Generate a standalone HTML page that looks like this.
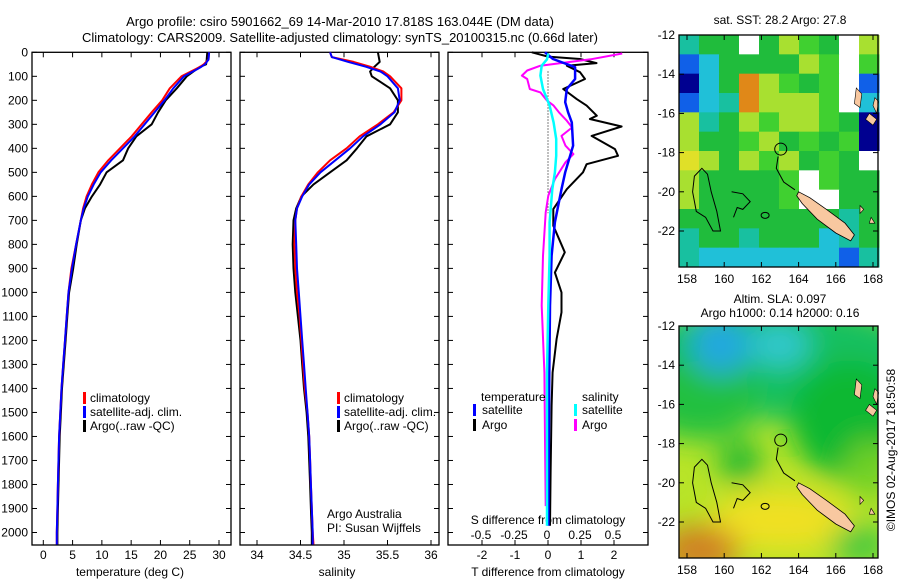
<!DOCTYPE html>
<html><head><meta charset="utf-8"><style>
body{margin:0;background:#fff;}
svg{display:block;font-family:"Liberation Sans",sans-serif;}
</style></head><body>
<svg id="c" width="900" height="580" viewBox="0 0 900 580" xmlns="http://www.w3.org/2000/svg">
<text x="340" y="26" font-size="13" text-anchor="middle">Argo profile: csiro 5901662_69 14-Mar-2010 17.818S 163.044E (DM data)</text>
<text x="340" y="42" font-size="13" text-anchor="middle">Climatology: CARS2009. Satellite-adjusted climatology: synTS_20100315.nc (0.66d later)</text>
<text x="780" y="24" font-size="12" text-anchor="middle">sat. SST: 28.2 Argo: 27.8</text>
<text x="780" y="303" font-size="12" text-anchor="middle">Altim. SLA: 0.097</text>
<text x="780" y="317" font-size="12" text-anchor="middle">Argo h1000: 0.14 h2000: 0.16</text>
<text transform="translate(895,450) rotate(-90)" font-size="12" text-anchor="middle">©IMOS 02-Aug-2017 18:50:58</text>
<g id="maps"></g>
<g id="plots"></g>
</svg>
<script>
// ---- data ----
const tDepth  = [0,30,50,60,70,100,150,200,250,300,350,400,450,500,550,600,650,700,800,900,1000,1100,1200,1300,1400,1500,1600,1700,1800,1900,2000,2050];
const tClim   = [28.3,28.2,27.4,26.8,26.0,23.6,21.6,20.3,18.5,16.8,15.1,13.1,11.1,9.4,8.3,7.4,6.8,6.4,5.6,4.8,4.3,4.0,3.7,3.4,3.1,2.9,2.7,2.6,2.5,2.4,2.3,2.3];
const tSat    = [28.3,28.2,27.6,27.0,26.3,24.0,22.2,20.7,19.0,17.3,15.6,13.6,11.6,9.8,8.6,7.6,6.9,6.4,5.6,4.9,4.3,4.0,3.7,3.4,3.1,2.9,2.7,2.6,2.5,2.4,2.3,2.3];
const tArgo   = [28.0,27.9,27.8,26.8,26.2,24.5,22.8,20.9,19.6,18.5,15.9,14.5,13.6,10.8,9.7,8.3,7.1,6.4,5.7,5.1,4.4,4.1,3.8,3.5,3.2,3.0,2.8,2.7,2.6,2.5,2.4,2.4];
const sDepth  = [0,20,40,60,80,100,150,200,250,300,350,400,450,500,550,600,650,700,800,900,1000,1100,1200,1300,1400,1500,1600,1700,1800,1900,2000,2050];
const sClim   = [34.84,34.86,35.11,35.30,35.45,35.53,35.66,35.66,35.57,35.39,35.18,35.03,34.84,34.70,34.59,34.51,34.46,34.44,34.43,34.44,34.46,34.49,34.51,34.53,34.55,34.58,34.60,34.61,34.62,34.63,34.64,34.65];
const sSat    = [34.84,34.86,35.05,35.25,35.42,35.50,35.62,35.64,35.58,35.42,35.22,35.07,34.90,34.73,34.60,34.52,34.46,34.44,34.45,34.46,34.48,34.50,34.52,34.54,34.56,34.58,34.60,34.61,34.62,34.63,34.64,34.64];
const sArgo   = [35.39,35.40,35.41,35.35,35.30,35.32,35.53,35.62,35.62,35.53,35.26,35.15,35.03,34.84,34.65,34.51,34.45,34.42,34.41,34.42,34.44,34.47,34.50,34.52,34.54,34.57,34.59,34.60,34.61,34.62,34.63,34.63];
const dtDepth = [0,18,28,45,56,83,111,153,195,222,264,278,309,348,403,431,466,500,570,653,722,833,917,1000,1083,1194,1333,1472,1750,1972];
const dtArgo  = [-0.49,0,0.97,1.47,0.57,0.97,1.12,0.46,0.87,1.17,1.48,1.27,2.23,1.32,2.03,2.12,1.17,1.06,0.57,0.16,0.16,0.51,0.21,0.41,0.41,0.26,0.14,0.11,0.08,0.06];
const dtSDepth= [0,28,62,111,153,208,250,292,389,500,570,708,847,1055,1333,1972];
const dtSat   = [-0.09,0.15,0.82,0.82,0.57,0.52,0.61,0.72,0.76,0.52,0.41,0.21,0.11,0.06,0.04,0.01];
const dsDepth = [5,29,56,76,97,111,153,167,201,222,250,285,313,348,389,424,458,528,597,667,847,1055,1333,1611,1890];
const dsArgo  = [0.57,0.33,-0.05,-0.15,-0.19,-0.15,-0.13,-0.05,0,0.05,0.09,0.15,0.19,0.11,0.14,0.20,0.14,0.06,0.01,-0.01,-0.03,-0.04,-0.02,-0.015,-0.01];
const dsSDepth= [5,29,56,97,153,222,292,361,431,500,570,708,847,1055,1333,1972];
const dsSat   = [0.01,0,-0.04,-0.05,-0.03,0.02,0.05,0.07,0.07,0.06,0.04,0.02,0.02,0.01,0,0];
const depthTicks = [0,100,200,300,400,500,600,700,800,900,1000,1100,1200,1300,1400,1500,1600,1700,1800,1900,2000];
const tTicks = [0,5,10,15,20,25,30];
const sTicks = [34,34.5,35,35.5,36];
const sTickLabels = ["34","34.5","35","35.5","36"];
const dTTicks = [-2,-1,0,1,2];
const dSTicks = [-0.5,-0.25,0,0.25,0.5];

const NS='http://www.w3.org/2000/svg';
function mk(tag,attrs,parent){const e=document.createElementNS(NS,tag);for(const k in attrs)e.setAttribute(k,attrs[k]);(parent||document.getElementById('plots')).appendChild(e);return e;}
const Y0=52.3, Y1=545, yD=d=>Y0+d*0.2401;

function frame(x0,x1,name){
  const r=mk('rect',{x:x0,y:Y0,width:x1-x0,height:Y1-Y0,fill:'none',stroke:'#000','stroke-width':1.3});
  
  
  depthTicks.forEach(d=>{const y=yD(d);
    const t1=mk('line',{x1:x0,x2:x0+5,y1:y,y2:y,stroke:'#000'});
    
    
    const t2=mk('line',{x1:x1,x2:x1-5,y1:y,y2:y,stroke:'#000'});
    
    
  });
}
function xticks(vals,labels,fx,y,name,top){
  vals.forEach((v,i)=>{const x=fx(v);
    const l=mk('line',{x1:x,x2:x,y1:Y1,y2:Y1-5,stroke:'#000'});
    
    
    if(top){const l2=mk('line',{x1:x,x2:x,y1:Y0,y2:Y0+5,stroke:'#000'});
      
      }
    const t=mk('text',{x:x,y:y,'font-size':12,'text-anchor':'middle'});t.textContent=labels[i];
    
    
  });
}
function line(xs,ds,fx,color,w,name){
  const p=xs.map((v,i)=>fx(v).toFixed(1)+','+yD(ds[i]).toFixed(1)).join(' ');
  const e=mk('polyline',{points:p,fill:'none',stroke:color,'stroke-width':w,'stroke-linejoin':'round'});
  
  
}
function txt(s,x,y,name,anchor){const t=mk('text',{x:x,y:y,'font-size':12,'text-anchor':anchor||'start'});t.textContent=s;
  
  }
function legBar(x,y,color,name){const r=mk('rect',{x:x,y:y-10,width:3,height:12,fill:color});
  
  }

// depth labels
depthTicks.forEach(d=>{const t=mk('text',{x:28,y:yD(d)+4,'font-size':12,'text-anchor':'end'});t.textContent=d;
  
  });

// Panel 1 temperature
const fT=v=>43.3+v*5.857;
frame(32,231,'temperature-panel');
xticks(tTicks,tTicks.map(String),fT,559,'temperature',true);
txt('temperature (deg C)',130,576,'temperature-axis-title','middle');
line(tArgo,tDepth,fT,'#000',2,'temperature-argo-line');
line(tClim,tDepth,fT,'#f00',2,'temperature-climatology-line');
line(tSat,tDepth,fT,'#00f',2,'temperature-satellite-line');
legBar(83,402,'#f00','legend-climatology-marker');txt('climatology',90,402,'legend-climatology');
legBar(83,416,'#00f','legend-satellite-marker');txt('satellite-adj. clim.',90,416,'legend-satellite');
legBar(83,430,'#000','legend-argo-marker');txt('Argo(..raw -QC)',90,430,'legend-argo');

// Panel 2 salinity
const fS=v=>257+(v-34)*87;
frame(240,439,'salinity-panel');
xticks(sTicks,sTickLabels,fS,559,'salinity',true);
txt('salinity',337,576,'salinity-axis-title','middle');
line(sArgo,sDepth,fS,'#000',2,'salinity-argo-line');
line(sClim,sDepth,fS,'#f00',2,'salinity-climatology-line');
line(sSat,sDepth,fS,'#00f',2,'salinity-satellite-line');
legBar(337,402,'#f00','legend2-climatology-marker');txt('climatology',344,402,'legend2-climatology');
legBar(337,416,'#00f','legend2-satellite-marker');txt('satellite-adj. clim.',344,416,'legend2-satellite');
legBar(337,430,'#000','legend2-argo-marker');txt('Argo(..raw -QC)',344,430,'legend2-argo');
txt('Argo Australia',327,518,'credit-line-1');
txt('PI: Susan Wijffels',327,532,'credit-line-2');

// Panel 3 differences
const fDT=v=>548+v*33, fDS=v=>547+v*132;
frame(448,648,'difference-panel');
dTTicks.forEach(v=>{const x=fDT(v);const l=mk('line',{x1:x,x2:x,y1:Y0,y2:Y0+5,stroke:'#000'});
  
  });
xticks(dTTicks,dTTicks.map(String),fDT,559,'tdiff',false);
dSTicks.forEach((v,i)=>{const t=mk('text',{x:fDS(v),y:539,'font-size':12,'text-anchor':'middle'});t.textContent=String(v);
  
  });
txt('S difference from climatology',548,524,'sdiff-axis-title','middle');
txt('T difference from climatology',548,576,'tdiff-axis-title','middle');
const zl=mk('line',{x1:fDT(0),x2:fDT(0),y1:yD(80),y2:yD(670),stroke:'#000','stroke-dasharray':'1,2'});


line(dtArgo,dtDepth,fDT,'#000',2,'tdiff-argo-line');
line(dsArgo,dsDepth,fDS,'#f0f',2,'sdiff-argo-line');
line(dtSat,dtSDepth,fDT,'#00f',2.5,'tdiff-satellite-line');
line(dsSat,dsSDepth,fDS,'#0ff',2.5,'sdiff-satellite-line');
txt('temperature',481,401,'legend3-temperature-heading');
legBar(473,414,'#00f','legend3-tsat-marker');txt('satellite',482,414,'legend3-tsat');
legBar(473,429,'#000','legend3-targo-marker');txt('Argo',482,429,'legend3-targo');
txt('salinity',582,401,'legend3-salinity-heading');
legBar(574,414,'#0ff','legend3-ssat-marker');txt('satellite',582,414,'legend3-ssat');
legBar(574,429,'#f0f','legend3-sargo-marker');txt('Argo',582,429,'legend3-sargo');

// ---- maps ----
const M=document.getElementById('maps');
const MX0=679,MX1=878,lonX=l=>687+(l-158)*18.6;
function mapFrame(y0,name){
  const latY=l=>y0+(-12-l)*19.6;
  return latY;
}
const colors={G:'#20bc3c',g:'#40d030',Y:'#a8e030',y:'#e0e028',O:'#e08818',B:'#1060e8',C:'#20c0d8',T:'#18c0a0',W:'#ffffff',N:'#000090'};
const grid=["TGGWGYgGWY","BCGGGGYgWg","NCGOYgGgWB","BCTOYYYgWC","YTGYgYYgGN","YGGgYGgGgN","yYGYgYGgGW","YGGGGgWgGG","YGGGGgWWGG","GGGGGGGGTG","TGGTGGGCTG","TCCCCCCCBT"];
const topY0=35, botY0=326, MH=232;
grid.forEach((row,r)=>{for(let c=0;c<row.length;c++){
  const e=mk('rect',{x:MX0+c*20,y:topY0+r*MH/12,width:20.5,height:MH/12+0.5,fill:colors[row[c]]},M);
  
  }});
// bottom smooth SLA map
const defs=mk('defs',{},M);
defs.innerHTML='<filter id="bl" x="-20%" y="-20%" width="140%" height="140%"><feGaussianBlur stdDeviation="14"/></filter><clipPath id="cb"><rect x="679" y="326" width="199" height="232"/></clipPath>';
const bg=mk('g',{'clip-path':'url(#cb)'},M);


mk('rect',{x:MX0,y:botY0,width:199,height:MH,fill:'#b8e428'},bg);
const bb=mk('g',{filter:'url(#bl)'},bg);
[[778,360,150,60,'#18c060'],[700,400,60,40,'#20c040'],[850,420,60,60,'#10b830'],[720,345,30,30,'#20a8e0'],[780,345,30,22,'#30c8d0'],[740,462,22,22,'#20b830'],[780,520,70,30,'#f0e020'],[700,550,40,25,'#d08020'],[860,545,30,20,'#40c840'],[870,470,25,30,'#70d028']].forEach(a=>{
  mk('ellipse',{cx:a[0],cy:a[1],rx:a[2],ry:a[3],fill:a[4]},bb);});
// islands and contours for both maps
[topY0,botY0].forEach((y0,mi)=>{
  const ly=l=>y0+(-12-l)*19.6;
  const P=pts=>pts.map(p=>lonX(p[0]).toFixed(1)+','+ly(p[1]).toFixed(1)).join(' ');
  const nc=mk('polygon',{points:P([[164.0,-20.0],[164.6,-20.3],[165.5,-20.9],[166.5,-21.6],[167.0,-22.2],[166.8,-22.5],[166,-22.1],[165,-21.4],[164.2,-20.6],[163.9,-20.2]]),fill:'#f8c8a0',stroke:'#000','stroke-width':0.8},M);
  
  
  [[[167.1,-14.7],[167.4,-15.0],[167.3,-15.7],[167.0,-15.5]],[[167.8,-16.0],[168.2,-16.3],[168.0,-16.6],[167.6,-16.3]],[[168.1,-15.2],[168.3,-15.4],[168.2,-16.0],[168.0,-15.6]],[[167.3,-20.7],[167.5,-20.9],[167.3,-21.1]],[[167.9,-21.3],[168.1,-21.6],[167.8,-21.6]]].forEach(isl=>{
    const e=mk('polygon',{points:P(isl),fill:'#f8c8a0',stroke:'#000','stroke-width':0.6},M);
    
    });
  const c1=mk('polygon',{points:P([[158.8,-18.8],[159.1,-19.1],[159.3,-20],[159.6,-21],[159.8,-22],[159.4,-22],[159,-21.3],[158.5,-21],[158.3,-20],[158.4,-19.2]]),fill:'none',stroke:'#000','stroke-width':1},M);
  
  
  const c2=mk('polyline',{points:P([[160.4,-20],[161.0,-20.1],[161.4,-20.5],[161.0,-20.9],[160.7,-20.8],[160.5,-21.3]]),fill:'none',stroke:'#000','stroke-width':1},M);
  
  
  const c3=mk('polyline',{points:P([[162.9,-18.2],[162.8,-18.8],[163.2,-19.5],[163.8,-19.9]]),fill:'none',stroke:'#000','stroke-width':1},M);
  
  
  const c4=mk('ellipse',{cx:lonX(162.2),cy:ly(-21.2),rx:4,ry:3,fill:'none',stroke:'#000'},M);
  
  
  const pc=mk('circle',{cx:lonX(163.04),cy:ly(-17.82),r:6,fill:'none',stroke:'#000','stroke-width':1},M);
  
  
  const fr=mk('rect',{x:MX0,y:y0,width:MX1-MX0,height:MH,fill:'none',stroke:'#000','stroke-width':1.3},M);
  
  
  [-12,-14,-16,-18,-20,-22].forEach(l=>{const y=ly(l);
    const t=mk('line',{x1:MX0,x2:MX0+5,y1:y,y2:y,stroke:'#000'},M);
    
    
    const t2=mk('line',{x1:MX1,x2:MX1-5,y1:y,y2:y,stroke:'#000'},M);
    
    
    const tx=mk('text',{x:MX0-4,y:y+4,'font-size':12,'text-anchor':'end'},M);tx.textContent=l;
    
    });
  [158,160,162,164,166,168].forEach(l=>{const x=lonX(l);
    const t=mk('line',{x1:x,x2:x,y1:y0,y2:y0+5,stroke:'#000'},M);
    
    
    const t2=mk('line',{x1:x,x2:x,y1:y0+MH,y2:y0+MH-5,stroke:'#000'},M);
    
    
    const tx=mk('text',{x:x,y:y0+MH+16,'font-size':12,'text-anchor':'middle'},M);tx.textContent=l;
    
    });
});
</script>
</body></html>
